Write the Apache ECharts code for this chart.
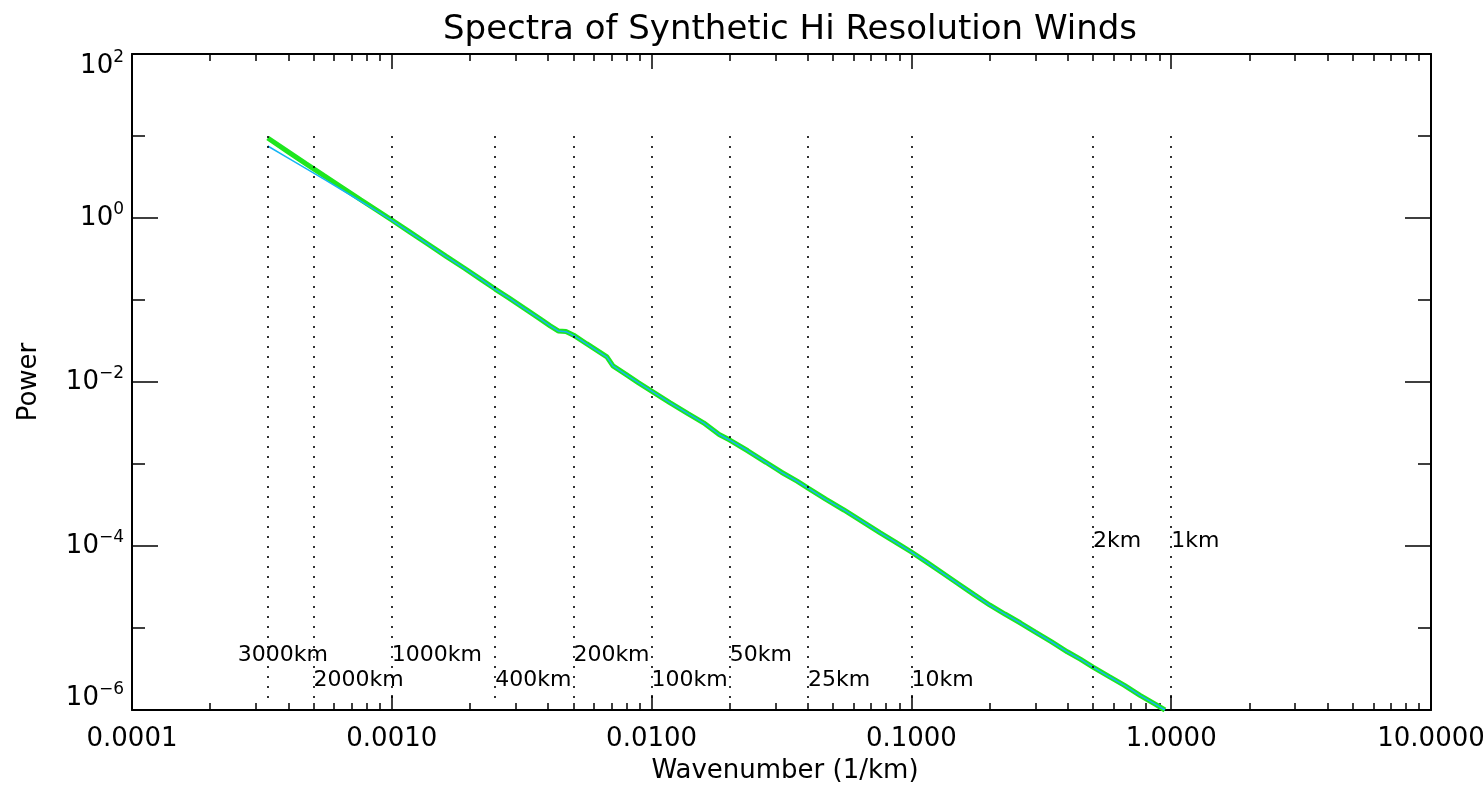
<!DOCTYPE html>
<html>
<head>
<meta charset="utf-8">
<script src="https://cdn.jsdelivr.net/npm/echarts@6/dist/echarts.min.js"></script>
<style>
html,body{margin:0;padding:0;background:#fff;}
#chart{width:1483px;height:795px;}
</style>
</head>
<body>
<div id="chart"></div>
<script>
// ---------------- data ----------------
const wavenumber = [0.000333,0.000398,0.000468,0.000550,0.000646,0.000759,0.000891,0.001,0.001175,0.00138,
  0.00162,0.00191,0.00224,0.0025,0.00282,0.00324,0.00372,0.00407,0.00437,0.00468,
  0.00501,0.00562,0.00631,0.00673,0.0071,0.00794,0.00891,0.01,0.01175,0.0138,
  0.01585,0.0182,0.02,0.02344,0.02754,0.03162,0.03631,0.04,0.04677,0.05495,
  0.06457,0.07586,0.0871,0.1,0.1148,0.1318,0.1514,0.1738,0.2,0.2291,
  0.263,0.3,0.3467,0.3981,0.4467,0.5,0.5754,0.6607,0.7586,0.871,0.946];
const powerGreen = [9.46,6.46,4.57,3.26,2.34,1.67,1.20,0.946,0.673,0.479,
  0.340,0.242,0.172,0.136,0.106,0.0789,0.0589,0.0484,0.0419,0.0412,
  0.0372,0.0293,0.0231,0.0202,0.0157,0.01245,0.00977,0.00776,0.00562,0.00412,
  0.00318,0.00229,0.00196,0.00145,0.00105,0.000794,0.000617,0.000509,0.000372,0.000275,
  0.000200,0.000145,0.000111,8.45e-5,6.31e-5,4.68e-5,3.47e-5,2.57e-5,1.91e-5,1.48e-5,
  1.15e-5,8.91e-6,6.76e-6,5.13e-6,4.17e-6,3.34e-6,2.57e-6,2.0e-6,1.51e-6,1.17e-6,1.0e-6];
const powerBlue = [7.55,5.42,4.01,2.96,2.18,1.60,1.18,0.933,0.670,0.478,
  0.339,0.241,0.172,0.135,0.106,0.0786,0.0588,0.0483,0.0419,0.0411,
  0.0371,0.0292,0.0230,0.0201,0.0157,0.01243,0.00975,0.00775,0.00561,0.00412,
  0.00317,0.00229,0.00195,0.00145,0.00105,0.000792,0.000616,0.000508,0.000371,0.000275,
  0.000200,0.000145,0.000111,8.43e-5,6.30e-5,4.67e-5,3.46e-5,2.57e-5,1.90e-5,1.48e-5,
  1.15e-5,8.90e-6,6.75e-6,5.12e-6,4.16e-6,3.33e-6,2.56e-6,2.0e-6,1.51e-6,1.17e-6,1.0e-6];
const wavelengthKm = [3000,2000,1000,400,200,100,50,25,10,2,1];
const wavelengthLabels = ['3000km','2000km','1000km','400km','200km','100km','50km','25km','10km','2km','1km'];
const xTickLabels = ['0.0001','0.0010','0.0100','0.1000','1.0000','10.0000'];
const yTickExponents = [2,0,-2,-4,-6];

// ---------------- layout ----------------
const FONT = 'DejaVu Sans';
const labelRowPower = [4.7e-6, 2.3e-6, 4.7e-6, 2.3e-6, 4.7e-6, 2.3e-6, 4.7e-6, 2.3e-6, 2.3e-6, 1.15e-4, 1.15e-4];
const labelOffset = wavelengthKm.map((w, i) => i === 0 ? [-30, 0] : [0, 0]);

const L = Math.log10;
const xMinorTicks = [];
for (let d = -4; d < 1; d++) for (let m = 2; m <= 9; m++) xMinorTicks.push(d + L(m));
const yMinorTicks = [-5, -3, -1, 1];

const greenData = wavenumber.map((k, i) => [L(k), L(powerGreen[i])]);
const blueData = wavenumber.map((k, i) => [L(k), L(powerBlue[i])]);

const xBase = { type: 'value', min: -4, max: 1, interval: 1, splitLine: { show: false } };
const yBase = { type: 'value', min: -6, max: 2, interval: 2, splitLine: { show: false } };
const axLine = { show: true, onZero: false, lineStyle: { color: '#000', width: 2 } };
const noLine = { show: false, onZero: false };
const tickStyle = { color: '#000', width: 1.5 };

const expStr = v => (v < 0 ? '\u2212' + (-v) : '' + v);

const option = {
  backgroundColor: '#fff',
  animation: false,
  grid: { left: 132, right: 52, top: 54, bottom: 85, containLabel: false, outerBoundsMode: 'none' },
  xAxis: [
    Object.assign({}, xBase, {
      position: 'bottom', axisLine: axLine,
      axisTick: { show: true, inside: true, length: 15, lineStyle: tickStyle },
      axisLabel: {
        show: true, margin: 16, color: '#000', fontFamily: FONT, fontSize: 26,
        formatter: v => xTickLabels[Math.round(v) + 4]
      }
    }),
    Object.assign({}, xBase, {
      position: 'bottom', axisLine: noLine, axisLabel: { show: false },
      axisTick: { show: true, inside: true, length: 7, lineStyle: tickStyle, customValues: xMinorTicks }
    }),
    Object.assign({}, xBase, {
      position: 'top', axisLine: axLine, axisLabel: { show: false },
      axisTick: { show: true, inside: true, length: 15, lineStyle: tickStyle }
    }),
    Object.assign({}, xBase, {
      position: 'top', axisLine: noLine, axisLabel: { show: false },
      axisTick: { show: true, inside: true, length: 7, lineStyle: tickStyle, customValues: xMinorTicks }
    })
  ],
  yAxis: [
    Object.assign({}, yBase, {
      position: 'left', axisLine: axLine,
      axisTick: { show: true, inside: true, length: 26, lineStyle: tickStyle },
      axisLabel: {
        show: true, margin: 8, color: '#000',
        formatter: v => {
          const e = Math.round(v);
          const suf = e === 2 ? 'T' : (e === -6 ? 'B' : '');
          return '{b' + suf + '|10}{s' + suf + '|' + expStr(e) + '}';
        },
        rich: {
          b: { fontFamily: FONT, fontSize: 26, color: '#000' },
          s: { fontFamily: FONT, fontSize: 17, color: '#000', padding: [0, 0, 16, 0] },
          bT: { fontFamily: FONT, fontSize: 26, color: '#000', padding: [24, 0, 0, 0] },
          sT: { fontFamily: FONT, fontSize: 17, color: '#000', padding: [24, 0, 16, 0] },
          bB: { fontFamily: FONT, fontSize: 26, color: '#000', padding: [0, 0, 24, 0] },
          sB: { fontFamily: FONT, fontSize: 17, color: '#000', padding: [0, 0, 40, 0] }
        }
      }
    }),
    Object.assign({}, yBase, {
      position: 'left', axisLine: noLine, axisLabel: { show: false },
      axisTick: { show: true, inside: true, length: 13, lineStyle: tickStyle, customValues: yMinorTicks }
    }),
    Object.assign({}, yBase, {
      position: 'right', axisLine: axLine, axisLabel: { show: false },
      axisTick: { show: true, inside: true, length: 26, lineStyle: tickStyle }
    }),
    Object.assign({}, yBase, {
      position: 'right', axisLine: noLine, axisLabel: { show: false },
      axisTick: { show: true, inside: true, length: 13, lineStyle: tickStyle, customValues: yMinorTicks }
    })
  ],
  series: [
    {
      type: 'line', name: 'dotted', data: [], xAxisIndex: 0, yAxisIndex: 0, silent: true,
      markLine: {
        symbol: 'none', silent: true, animation: false,
        label: { show: false },
        lineStyle: { color: '#000', type: [2, 8], width: 1.6 },
        data: wavelengthKm.map(w => [{ coord: [L(1 / w), 1] }, { coord: [L(1 / w), -5.9] }])
      }
    },
    {
      type: 'scatter', name: 'labels', xAxisIndex: 0, yAxisIndex: 0, silent: true,
      symbolSize: 0, itemStyle: { opacity: 1 },
      data: wavelengthKm.map((w, i) => ({
        value: [L(1 / w), L(labelRowPower[i])],
        label: { offset: labelOffset[i] }
      })),
      label: {
        show: true, position: 'right', distance: 0, color: '#000', opacity: 1, fontFamily: FONT, fontSize: 22,
        formatter: p => wavelengthLabels[p.dataIndex]
      }
    },
    {
      type: 'line', name: 'green', data: greenData, xAxisIndex: 0, yAxisIndex: 0,
      showSymbol: false, symbol: 'none', lineStyle: { color: '#1ee61e', width: 5 }, z: 3
    },
    {
      type: 'line', name: 'blue', data: blueData, xAxisIndex: 0, yAxisIndex: 0,
      showSymbol: false, symbol: 'none', lineStyle: { color: '#14b4f5', width: 1.5 }, z: 4
    }
  ],
  graphic: [
    { type: 'text', x: 790, y: 30, style: { text: 'Spectra of Synthetic Hi Resolution Winds', textAlign: 'center', textVerticalAlign: 'middle', font: '34px "DejaVu Sans"', fill: '#000' } },
    { type: 'text', x: 785, y: 771, style: { text: 'Wavenumber (1/km)', textAlign: 'center', textVerticalAlign: 'middle', font: '26px "DejaVu Sans"', fill: '#000' } },
    { type: 'text', x: 29, y: 382, rotation: Math.PI / 2, style: { text: 'Power', textAlign: 'center', textVerticalAlign: 'middle', font: '26px "DejaVu Sans"', fill: '#000' } }
  ]
};

const chart = echarts.init(document.getElementById('chart'), null, { renderer: 'canvas' });
chart.setOption(option);
</script>
</body>
</html>
